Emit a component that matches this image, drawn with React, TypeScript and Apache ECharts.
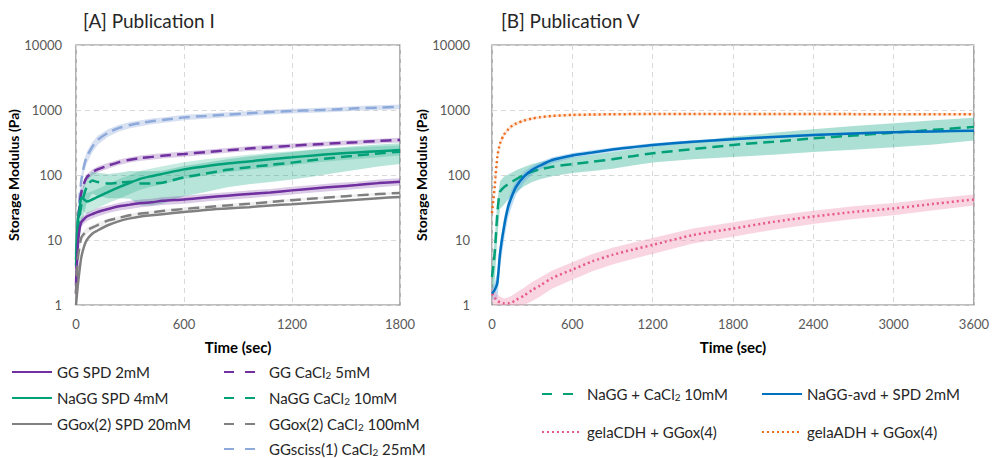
import React, { useEffect, useRef } from "react";
import * as echarts from "echarts";

// ---------- Panel A (Publication I) ----------
const timeA = [0, 10, 20, 30, 45, 60, 90, 120, 180, 240, 300, 360, 420, 480, 600, 720, 840, 960, 1080, 1200, 1320, 1440, 1560, 1680, 1800];
const ggSpd2 = [1.5, 8, 15, 19, 21, 23, 25, 27, 30, 33, 35, 37, 38, 40, 42, 45, 48, 51, 54, 58, 62, 66, 70, 75, 79];
const ggSpd2Err = [0.5, 2, 3, 3, 3, 3.5, 3.5, 4, 4, 4.5, 5, 5, 5, 5.5, 6, 6, 6.5, 7, 7, 8, 8, 9, 9, 10, 10];
const naggSpd4 = [5, 20, 30, 45, 42, 39, 42, 46, 55, 65, 76, 88, 96, 104, 122, 136, 150, 162, 175, 187, 200, 212, 222, 232, 242];
const naggSpd4Err = [2, 8, 12, 15, 15, 14, 14, 15, 18, 22, 25, 28, 30, 32, 35, 38, 40, 42, 44, 45, 46, 46, 45, 44, 42];
const ggoxSpd20 = [1, 2, 3.5, 5.5, 8, 10, 12.5, 14, 17, 19.5, 21.5, 23, 24, 25, 27, 29, 30.5, 32, 34, 35.5, 37.5, 39.5, 41.5, 44, 46];
const ggCa5 = [2, 15, 35, 55, 75, 92, 110, 122, 140, 158, 172, 182, 190, 198, 210, 225, 240, 255, 268, 282, 295, 308, 320, 334, 346];
const ggCa5Err = [1, 4, 7, 9, 10, 11, 12, 13, 14, 15, 16, 17, 18, 18, 19, 20, 21, 22, 23, 24, 25, 26, 27, 28, 29];
const naggCa10 = [4, 15, 23, 35, 50, 66, 82, 78, 74, 76, 79, 74, 74, 76, 92, 105, 120, 132, 143, 155, 170, 185, 200, 215, 228];
const naggCa10Err = [2, 8, 12, 18, 25, 28, 30, 30, 30, 32, 36, 40, 40, 40, 45, 50, 55, 60, 65, 70, 75, 78, 80, 80, 80];
const ggoxCa100 = [1.5, 5, 8, 11, 12.5, 14, 15.5, 17, 20, 22, 24, 25.5, 26.5, 28, 30, 32, 34, 36, 38.5, 41, 43.5, 46, 48.5, 51, 53];
const ggoxCa100Err = [0.3, 1, 1.5, 1.5, 1.5, 1.5, 1.5, 1.5, 1.5, 1.5, 1.5, 1.5, 1.5, 1.5, 2, 2, 2, 2, 2, 2, 2, 2, 2, 2, 2];
const ggscissCa25 = [6, 20, 45, 84, 140, 190, 270, 345, 450, 530, 588, 630, 670, 700, 770, 810, 850, 890, 930, 966, 990, 1020, 1060, 1090, 1120];
const ggscissCa25Err = [2, 6, 12, 20, 30, 40, 50, 55, 60, 62, 64, 66, 68, 70, 72, 74, 76, 78, 80, 82, 84, 86, 88, 90, 92];

// ---------- Panel B (Publication V) ----------
const timeB = [0, 20, 40, 60, 90, 120, 150, 180, 240, 300, 360, 450, 600, 750, 900, 1050, 1200, 1500, 1800, 2100, 2400, 2700, 3000, 3300, 3600];
const naggCaB = [2.7, 6.2, 26, 55, 65, 72, 79, 86, 100, 113, 122, 134, 147, 160, 175, 195, 216, 250, 290, 325, 366, 405, 447, 495, 550];
const naggCaBErr = [1.5, 4, 15, 25, 30, 30, 30, 32, 33, 35, 36, 38, 40, 45, 50, 55, 60, 75, 100, 120, 140, 160, 180, 200, 210];
const naggAvd = [1.5, 1.7, 2.2, 6.2, 16, 32, 48, 66, 95, 120, 140, 170, 200, 222, 246, 268, 290, 325, 356, 385, 412, 435, 455, 468, 480];
const naggAvdErr = [0.3, 0.5, 1, 2.5, 6, 10, 14, 16, 18, 18, 18, 18, 18, 18, 18, 18, 18, 18, 18, 18, 18, 18, 18, 18, 18];
const gelaCDH = [1.5, 1.3, 1.15, 1.1, 1.06, 1.06, 1.1, 1.2, 1.4, 1.7, 2.0, 2.6, 3.5, 4.7, 5.9, 7.1, 8.4, 11.9, 15, 19, 23, 27, 30.6, 36, 42];
const gelaCDHErr = [0.4, 0.4, 0.3, 0.25, 0.2, 0.25, 0.3, 0.35, 0.45, 0.55, 0.65, 0.8, 1.05, 1.4, 1.7, 2.0, 2.3, 3.1, 3.8, 4.6, 5.3, 6, 6.6, 7.4, 8.2];
const gelaADH = [26, 66, 190, 306, 420, 500, 570, 620, 690, 740, 775, 810, 840, 852, 860, 865, 870, 870, 868, 866, 865, 864, 863, 862, 860];
const gelaADHErr = [5, 10, 20, 30, 35, 35, 35, 35, 35, 35, 35, 35, 40, 40, 40, 40, 40, 40, 40, 40, 40, 40, 40, 40, 40];

const yTicks = [1, 10, 100, 1000, 10000];
const xTicksA = [0, 600, 1200, 1800];
const xTicksB = [0, 600, 1200, 1800, 2400, 3000, 3600];

const FONT = "Lato, 'Open Sans', sans-serif";

const C = {
  purple: "#7030a0",
  green: "#00a078",
  gray: "#808080",
  lblue: "#8eaadb",
  blue: "#0070c0",
  orange: "#f06a1c",
  pink: "#e8588a",
};

const pairs = (t: number[], v: number[]) => t.map((x, i) => [x, v[i]]);

// error band drawn as one polygon through the axis scales
function band(gi: number, t: number[], v: number[], e: number[], color: string) {
  const yMin = yTicks[0];
  return {
    type: "custom", xAxisIndex: gi, yAxisIndex: gi, silent: true, z: 1,
    data: t.map((x, i) => [x, v[i] - e[i], v[i] + e[i]]),
    encode: { x: 0, y: [1, 2] },
    renderItem: (params: any, api: any) => {
      if (params.dataIndex !== 0) return null;
      const upper = t.map((x, i) => api.coord([x, v[i] + e[i]]));
      const lower = t.map((x, i) => api.coord([x, Math.max(v[i] - e[i], yMin)])).reverse();
      return {
        type: "polygon",
        shape: { points: upper.concat(lower) },
        style: { fill: color, stroke: "none" },
      };
    },
  };
}

function line(name: string, gi: number, t: number[], v: number[], color: string, type: any) {
  return {
    name, type: "line", xAxisIndex: gi, yAxisIndex: gi, data: pairs(t, v),
    symbol: "none", smooth: 0.25, z: 3,
    lineStyle: { color, width: 2.5, type },
    itemStyle: { color },
  };
}

const DASH = [11, 6];
const DOT = [2, 3];

const fmt = (name: string) => name.replace("CaCl2", "CaCl{sub|2}");
const legendText = {
  fontSize: 15, color: "#262626", fontFamily: FONT, lineHeight: 16,
  rich: { sub: { fontSize: 10, lineHeight: 8, verticalAlign: "bottom", fontFamily: FONT, color: "#262626" } },
};

function axesFor(gi: number, max: number, yMargin: number, yNameGap: number) {
  return {
    x: {
      type: "value", gridIndex: gi, min: 0, max, interval: 600,
      name: "Time (sec)", nameLocation: "middle", nameGap: 34,
      nameTextStyle: { fontSize: 15, fontWeight: "bold", color: "#000", fontFamily: FONT },
      axisLine: { show: false }, axisTick: { show: false },
      axisLabel: { color: "#595959", fontSize: 13, margin: 12, fontFamily: FONT, showMaxLabel: true, formatter: (v: number) => String(v) },
      splitLine: { show: true, lineStyle: { type: [5, 4], color: "#d9d9d9", width: 1 } },
    },
    y: {
      type: "log", logBase: 10, gridIndex: gi, min: yTicks[0], max: yTicks[yTicks.length - 1],
      name: "Storage Modulus (Pa)", nameLocation: "middle", nameGap: yNameGap,
      nameTextStyle: { fontSize: 14, fontWeight: "bold", color: "#000", fontFamily: FONT },
      axisLine: { show: false }, axisTick: { show: false },
      axisLabel: { color: "#595959", fontSize: 13, margin: yMargin, fontFamily: FONT, formatter: (v: number) => String(Math.round(v)) },
      splitLine: { show: true, lineStyle: { type: [5, 4], color: "#d9d9d9", width: 1 } },
    },
  };
}

export default function App() {
  const ref = useRef<HTMLDivElement>(null);
  useEffect(() => {
    if (!ref.current) return;
    const chart = echarts.init(ref.current, null, { renderer: "svg" });
    const a = axesFor(0, xTicksA[xTicksA.length - 1], 14, 50);
    const b = axesFor(1, xTicksB[xTicksB.length - 1], 22, 44);
    const series: any[] = [
      band(0, timeA, ggscissCa25, ggscissCa25Err, "rgba(142,170,219,0.35)"),
      band(0, timeA, ggCa5, ggCa5Err, "rgba(112,48,160,0.25)"),
      band(0, timeA, naggCa10, naggCa10Err, "rgba(0,160,120,0.28)"),
      band(0, timeA, naggSpd4, naggSpd4Err, "rgba(0,160,120,0.22)"),
      band(0, timeA, ggSpd2, ggSpd2Err, "rgba(112,48,160,0.25)"),
      band(0, timeA, ggoxCa100, ggoxCa100Err, "rgba(235,235,235,0.8)"),
      band(1, timeB, naggCaB, naggCaBErr, "rgba(0,160,120,0.32)"),
      band(1, timeB, naggAvd, naggAvdErr, "rgba(91,170,230,0.4)"),
      band(1, timeB, gelaCDH, gelaCDHErr, "rgba(240,150,180,0.4)"),
      band(1, timeB, gelaADH, gelaADHErr, "rgba(245,160,100,0.3)"),
      line("GGsciss(1) CaCl2 25mM", 0, timeA, ggscissCa25, C.lblue, DASH),
      line("GG CaCl2 5mM", 0, timeA, ggCa5, C.purple, DASH),
      line("NaGG CaCl2 10mM", 0, timeA, naggCa10, C.green, DASH),
      line("NaGG SPD 4mM", 0, timeA, naggSpd4, C.green, "solid"),
      line("GG SPD 2mM", 0, timeA, ggSpd2, C.purple, "solid"),
      line("GGox(2) CaCl2 100mM", 0, timeA, ggoxCa100, C.gray, DASH),
      line("GGox(2) SPD 20mM", 0, timeA, ggoxSpd20, C.gray, "solid"),
      line("gelaCDH + GGox(4)", 1, timeB, gelaCDH, C.pink, DOT),
      line("gelaADH + GGox(4)", 1, timeB, gelaADH, C.orange, DOT),
      line("NaGG + CaCl2 10mM", 1, timeB, naggCaB, C.green, DASH),
      line("NaGG-avd + SPD 2mM", 1, timeB, naggAvd, C.blue, "solid"),
    ];
    // one legend per entry, so each sits exactly where the reference puts it
    const leg = (name: string, left: number, centerY: number, dashType?: any) => ({
      orient: "vertical", left, top: centerY - 8, itemGap: 0, itemWidth: 40, itemHeight: 14, padding: 0,
      data: [name], formatter: fmt, textStyle: legendText, selectedMode: false,
      itemStyle: { opacity: 0, borderWidth: 0 },
      ...(dashType ? { lineStyle: { type: dashType } } : {}),
    });
    const D2 = [10, 11];
    chart.setOption({
      animation: false,
      backgroundColor: "#fff",
      title: [
        { text: "[A] Publication I", left: 78, top: 6, textStyle: { fontSize: 19, fontWeight: "normal", color: "#262626", fontFamily: FONT } },
        { text: "[B] Publication V", left: 496, top: 6, textStyle: { fontSize: 19, fontWeight: "normal", color: "#262626", fontFamily: FONT } },
      ],
      grid: [
        { left: 76, right: 592, top: 45, bottom: 153, show: true, borderColor: "#7f7f7f", borderWidth: 1.2 },
        { left: 492, right: 13, top: 45, bottom: 153, show: true, borderColor: "#7f7f7f", borderWidth: 1.2 },
      ],
      xAxis: [a.x, b.x],
      yAxis: [a.y, b.y],
      legend: [
        leg("GG SPD 2mM", 11, 372),
        leg("NaGG SPD 4mM", 11, 398),
        leg("GGox(2) SPD 20mM", 11, 424),
        leg("GG CaCl2 5mM", 223, 372, D2),
        leg("NaGG CaCl2 10mM", 223, 398, D2),
        leg("GGox(2) CaCl2 100mM", 223, 424, D2),
        leg("GGsciss(1) CaCl2 25mM", 223, 449, D2),
        leg("NaGG + CaCl2 10mM", 541, 394, D2),
        leg("gelaCDH + GGox(4)", 541, 432),
        leg("NaGG-avd + SPD 2mM", 761, 394),
        leg("gelaADH + GGox(4)", 761, 432),
      ],
      series,
    });
    return () => chart.dispose();
  }, []);
  return <div ref={ref} style={{ width: 992, height: 458, position: "absolute", left: 0, top: 0 }} />;
}
